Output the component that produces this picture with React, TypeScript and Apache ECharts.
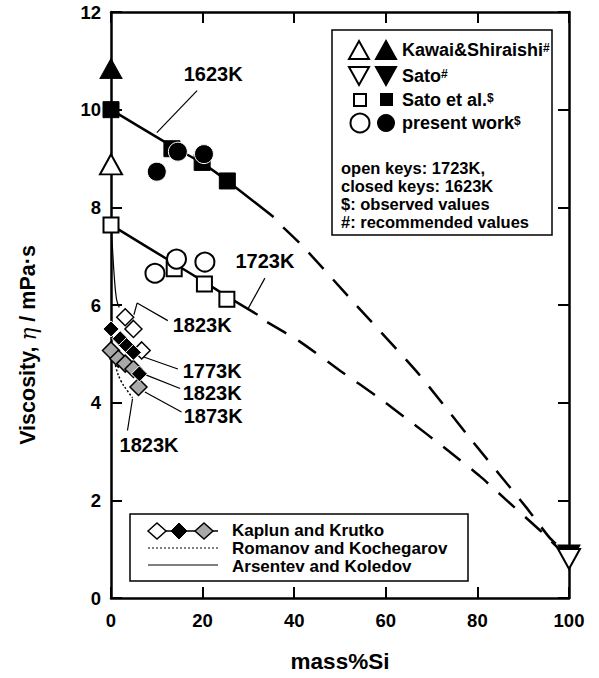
import React, { useEffect, useRef } from "react";
import * as echarts from "echarts";

const FONT = "'Liberation Sans', Arial, Helvetica, sans-serif";

// ---- data (mass%Si, viscosity mPa·s) ----
const kawai1723 = [[0, 8.88]];
const kawai1623 = [[0, 10.84]];
const satoRec1623 = [[100, 0.88]];
const satoRec1723 = [[100, 0.8]];
const satoEtAl1623 = [[0, 10.0], [13.3, 9.2], [19.9, 8.92], [25.4, 8.54]];
const satoEtAl1723 = [[0, 7.64], [13.8, 6.74], [20.4, 6.43], [25.3, 6.12]];
const present1623 = [[10.0, 8.73], [14.6, 9.14], [20.3, 9.09]];
const present1723 = [[9.6, 6.65], [14.3, 6.94], [20.5, 6.88]];
const kaplunOpen = [[3.1, 5.75], [4.9, 5.51], [6.7, 5.07]];
const kaplunBlack = [[0, 5.51], [2.0, 5.31], [3.4, 5.17], [4.9, 5.03], [6.2, 4.59]];
const kaplunGrey = [[0, 5.07], [1.6, 4.9], [3.1, 4.8], [4.9, 4.69], [6.0, 4.32]];
const romanov1823 = [[0.3, 5.0], [0.7, 4.92], [1.1, 4.71], [2.2, 4.44], [3.6, 4.24], [4.7, 4.1]];
const arsentev = [[0, 7.64], [0.3, 7.2], [0.7, 6.6], [1.2, 6.12], [1.8, 5.95]];

const fit1623Solid = [[0, 10.0], [13, 9.27], [20, 8.9], [25.4, 8.54], [35.5, 7.8]];
const fit1623Dash = [[37.6, 7.59], [41.9, 7.2], [53.7, 5.98], [66.8, 4.63], [79.0, 3.2], [90.8, 1.84], [95.9, 1.22], [100, 0.88]];
const fit1723Solid = [[0, 7.64], [13.8, 6.85], [20.4, 6.47], [25.3, 6.18], [32, 5.8]];
const fit1723Dash = [[34.1, 5.65], [41.4, 5.24], [50.1, 4.65], [58.2, 4.12], [65.4, 3.61], [72.5, 3.1], [80.6, 2.49], [87.8, 1.88], [94.3, 1.33], [100, 0.8]];

const tempLabels = [
  { name: "1623K", value: [22.3, 10.73] },
  { name: "1723K", value: [33.6, 6.9] },
  { name: "1823K", value: [19.9, 5.59] },
  { name: "1773K", value: [22.1, 4.65] },
  { name: "1823K", value: [22.1, 4.2] },
  { name: "1873K", value: [22.3, 3.73] },
  { name: "1823K", value: [8.3, 3.14] },
];
const leaders = [
  [[18.8, 10.39], [10.0, 9.53]],
  [[33.6, 6.55], [29.9, 5.92]],
  [[12.4, 5.68], [5.7, 6.04], [5.0, 5.8]],
  [[7.0, 4.94], [14.6, 4.69]],
  [[7.05, 4.59], [15.1, 4.29]],
  [[7.4, 4.22], [15.4, 3.81]],
  [[4.7, 4.08], [3.6, 3.43]],
];

const xMin = 0, xMax = 100, xStep = 20;
const yMin = 0, yMax = 12, yStep = 2;

export default function App() {
  const ref = useRef<HTMLDivElement>(null);
  useEffect(() => {
    if (!ref.current) return;
    const chart = echarts.init(ref.current, undefined, { renderer: "svg" });
    const LF = 18;
    const SF = 16.5;
    const axisCommon = {
      type: "value" as const,
      axisLine: { show: true, onZero: false, lineStyle: { color: "#000", width: 2.5 } },
      axisTick: { show: true, inside: true, length: 11, lineStyle: { color: "#000", width: 2 } },
      splitLine: { show: false },
    };
    const labelStyle = { color: "#000", fontFamily: FONT, fontWeight: "bold" as const, fontSize: 18.5 };
    const lineS = (data: number[][], width: number, type: any = "solid", smooth: any = 0.2) => ({
      type: "line",
      data,
      symbol: "none",
      smooth,
      clip: false,
      silent: true,
      z: 2,
      lineStyle: { color: "#000", width, type },
    });
    const scat = (data: number[][], symbol: string, size: any, fill: string, border: string, bw: number, rotate = 0, z = 3) => ({
      type: "scatter",
      data,
      symbol,
      symbolSize: size,
      symbolRotate: rotate,
      clip: false,
      z,
      itemStyle: { color: fill, borderColor: border, borderWidth: bw, opacity: 1 },
    });
    const tri = (cx: number, cy: number, up: boolean, fill: string) => {
      const h = 9, w = 10;
      const pts = up
        ? [[cx - w, cy + h], [cx + w, cy + h], [cx, cy - h]]
        : [[cx - w, cy - h], [cx + w, cy - h], [cx, cy + h]];
      return { type: "polygon", z: 21, shape: { points: pts }, style: { fill, stroke: "#000", lineWidth: 2 } };
    };
    const mkRich = (fs: number) => ({
      t: { fontFamily: FONT, fontWeight: "bold", fontSize: fs, color: "#000", lineHeight: 16 },
      s: { fontFamily: FONT, fontWeight: "bold", fontSize: 12, color: "#000", lineHeight: 16, verticalAlign: "top" },
    });
    const legText = (x: number, y: number, text: string, fs: number = LF) => ({
      type: "text",
      z: 21,
      x,
      y,
      style: { text, rich: mkRich(fs), verticalAlign: "middle", align: "left" },
    });
    const noteText = (y: number, text: string) => ({
      type: "text",
      z: 21,
      x: 341,
      y,
      style: { text, fontFamily: FONT, fontWeight: "bold", fontSize: SF, lineHeight: 16, fill: "#000", verticalAlign: "middle", align: "left" },
    });
    const baseGraphic: any[] = [
      {
        type: "text",
        x: 28,
        y: 345,
        rotation: Math.PI / 2,
        style: {
          text: "{b|Viscosity, }{e|η}{b| / mPa·s}",
          rich: {
            b: { fontFamily: FONT, fontWeight: "bold", fontSize: 21.5, color: "#000" },
            e: { fontFamily: "'DejaVu Serif', serif", fontStyle: "italic", fontSize: 21.5, color: "#000" },
          },
          align: "center",
          verticalAlign: "middle",
        },
      },
      // top-right legend
      { type: "rect", z: 20, shape: { x: 332, y: 30, width: 220, height: 205 }, style: { fill: "#fff", stroke: "#000", lineWidth: 1.5 } },
      tri(359, 50, true, "#fff"),
      tri(386, 50, true, "#000"),
      legText(402, 50, "{t|Kawai&Shiraishi}{s|#}"),
      tri(359, 76, false, "#fff"),
      tri(386, 76, false, "#000"),
      legText(402, 76, "{t|Sato}{s|#}"),
      { type: "rect", z: 21, shape: { x: 354, y: 94, width: 12, height: 12 }, style: { fill: "#fff", stroke: "#000", lineWidth: 2 } },
      { type: "rect", z: 21, shape: { x: 380, y: 93, width: 13, height: 13 }, style: { fill: "#000" } },
      legText(402, 100, "{t|Sato et al.}{s|$}"),
      { type: "circle", z: 21, shape: { cx: 360, cy: 123, r: 9.5 }, style: { fill: "#fff", stroke: "#000", lineWidth: 2 } },
      { type: "circle", z: 21, shape: { cx: 386, cy: 123, r: 9 }, style: { fill: "#000" } },
      legText(402, 123, "{t|present work}{s|$}"),
      noteText(168, "open keys: 1723K,"),
      noteText(186, "closed keys: 1623K"),
      noteText(204, "$: observed values"),
      noteText(222, "#: recommended values"),
      // bottom legend
      { type: "rect", z: 20, shape: { x: 130, y: 514, width: 338, height: 67 }, style: { fill: "#fff", stroke: "#000", lineWidth: 1.5 } },
      { type: "line", z: 21, shape: { x1: 148, y1: 531, x2: 218, y2: 531 }, style: { stroke: "#000", lineWidth: 1.5 } },
      { type: "polygon", z: 21, shape: { points: [[148, 531], [157, 523], [166, 531], [157, 539]] }, style: { fill: "#fff", stroke: "#000", lineWidth: 1.5 } },
      { type: "polygon", z: 21, shape: { points: [[171, 531], [179, 523], [187, 531], [179, 539]] }, style: { fill: "#000", stroke: "#000", lineWidth: 1 } },
      { type: "polygon", z: 21, shape: { points: [[195, 531], [204, 523], [213, 531], [204, 539]] }, style: { fill: "#a8a8a8", stroke: "#000", lineWidth: 1.5 } },
      { type: "line", z: 21, shape: { x1: 148, y1: 548, x2: 218, y2: 548 }, style: { stroke: "#000", lineWidth: 1.2, lineDash: [2, 2] } },
      { type: "line", z: 21, shape: { x1: 148, y1: 565, x2: 218, y2: 565 }, style: { stroke: "#000", lineWidth: 1.2 } },
      legText(232, 530, "{t|Kaplun and Krutko}", SF + 0.5),
      legText(232, 548, "{t|Romanov and Kochegarov}", SF + 0.5),
      legText(232, 566, "{t|Arsentev and Koledov}", SF + 0.5),
    ];
    const option: any = {
      animation: false,
      grid: { left: 111, right: 30, top: 12, bottom: 78 },
      xAxis: [
        {
          ...axisCommon,
          position: "bottom",
          min: xMin,
          max: xMax,
          interval: xStep,
          axisLabel: { ...labelStyle, margin: 13 },
          name: "mass%Si",
          nameLocation: "middle",
          nameGap: 52,
          nameTextStyle: { color: "#000", fontFamily: FONT, fontWeight: "bold", fontSize: 22.5 },
        },
        { ...axisCommon, position: "top", min: xMin, max: xMax, interval: xStep, axisLabel: { show: false } },
      ],
      yAxis: [
        { ...axisCommon, position: "left", min: yMin, max: yMax, interval: yStep, axisLabel: { ...labelStyle, margin: 10 } },
        { ...axisCommon, position: "right", min: yMin, max: yMax, interval: yStep, axisLabel: { show: false } },
      ],
      series: [
        lineS(fit1623Solid, 2.5),
        lineS(fit1623Dash, 2.5, [22, 14]),
        lineS(fit1723Solid, 2.5),
        lineS(fit1723Dash, 2.5, [22, 14]),
        lineS(arsentev, 1.2, "solid", 0.4),
        lineS(romanov1823, 1.5, [2, 2], 0.4),
        ...leaders.map((d) => lineS(d, 1.2, "solid", false)),
        scat(satoEtAl1723, "rect", 15, "#fff", "#000", 2),
        scat(satoEtAl1623, "rect", 16, "#000", "#000", 1),
        scat(present1723, "circle", 19, "#fff", "#000", 2, 0, 4),
        scat(present1623, "circle", 19, "#000", "#fff", 1, 0, 4),
        scat(kawai1723, "triangle", [22, 20], "#fff", "#000", 2),
        scat(kawai1623, "triangle", [22, 20], "#000", "#000", 1),
        scat(satoRec1623, "triangle", [22, 20], "#000", "#000", 1, 180),
        scat(satoRec1723, "triangle", [22, 20], "#fff", "#000", 2, 180, 4),
        scat(kaplunOpen, "diamond", [17, 17], "#fff", "#000", 1.5),
        scat(kaplunGrey, "diamond", [17, 17], "#a8a8a8", "#000", 1.5, 0, 4),
        scat(kaplunBlack, "diamond", [16, 16], "#000", "#fff", 1, 0, 5),
      ],
      graphic: baseGraphic,
    };
    chart.setOption(option);
    const labelGraphic = tempLabels.map((l) => {
      const p = chart.convertToPixel({ xAxisIndex: 0, yAxisIndex: 0 }, l.value) as number[];
      return {
        type: "text",
        z: 15,
        x: p[0],
        y: p[1],
        style: {
          text: l.name,
          fontFamily: FONT,
          fontWeight: "bold",
          fontSize: 20,
          lineHeight: 20,
          fill: "#000",
          align: "center",
          verticalAlign: "middle",
        },
      };
    });
    chart.setOption({ graphic: baseGraphic.concat(labelGraphic) });
    return () => chart.dispose();
  }, []);
  return <div ref={ref} style={{ position: "absolute", left: 0, top: 0, width: 599, height: 678 }} />;
}
